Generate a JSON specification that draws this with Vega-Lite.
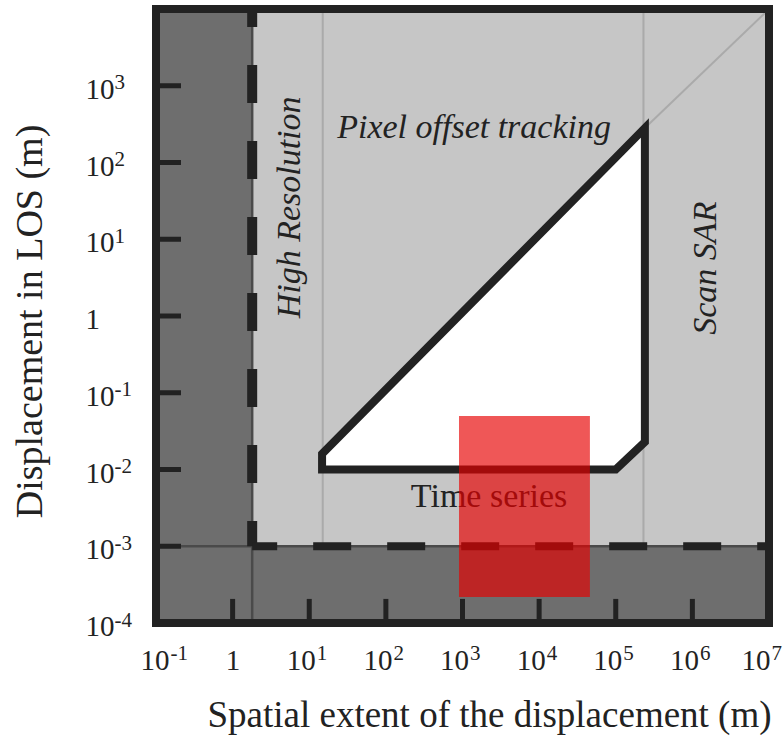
{
  "$schema": "https://vega.github.io/schema/vega-lite/v6.json",
  "width": 613,
  "height": 614,
  "autosize": "none",
  "padding": {"left": 156, "top": 9, "right": 15, "bottom": 115},
  "background": "white",
  "config": {"view": {"stroke": null}, "font": "Liberation Serif"},
  "datasets": {
    "zones": [
      {"zone": "low resolution", "x": 0.1, "x2": 1.75, "y": 0.0001, "y2": 10000},
      {"zone": "noise floor", "x": 0.1, "x2": 10000000, "y": 0.0001, "y2": 0.001}
    ],
    "thin": [
      {"line": "hr", "x": 15, "x2": 15, "y": 0.001, "y2": 10000},
      {"line": "scansar", "x": 230000, "x2": 230000, "y": 0.001, "y2": 10000},
      {"line": "diag", "x": 240000, "x2": 9000000, "y": 282, "y2": 9000}
    ],
    "edges": [
      {"edge": "v", "x": 1.8, "x2": 1.8, "y": 0.0001, "y2": 10000},
      {"edge": "h", "x": 0.1, "x2": 10000000, "y": 0.001, "y2": 0.001}
    ],
    "dashv": [{"x": 1.8, "y": 10000, "y2": 0.001}],
    "dashh": [{"x": 1.8, "x2": 10000000, "y": 0.001}],
    "triangle": [
      {"x": 14.7, "y": 0.016, "y2": 0.01},
      {"x": 100000, "y": 116, "y2": 0.01},
      {"x": 240000, "y": 282, "y2": 0.0228}
    ],
    "ytick": [
      {"x": 0.1, "x2": 0.212, "y": 1000}, {"x": 0.1, "x2": 0.212, "y": 100},
      {"x": 0.1, "x2": 0.212, "y": 10}, {"x": 0.1, "x2": 0.212, "y": 1},
      {"x": 0.1, "x2": 0.212, "y": 0.1}, {"x": 0.1, "x2": 0.212, "y": 0.01},
      {"x": 0.1, "x2": 0.212, "y": 0.001}
    ],
    "xtick": [
      {"x": 1, "y": 0.0001, "y2": 0.000206}, {"x": 10, "y": 0.0001, "y2": 0.000206},
      {"x": 100, "y": 0.0001, "y2": 0.000206}, {"x": 1000, "y": 0.0001, "y2": 0.000206},
      {"x": 10000, "y": 0.0001, "y2": 0.000206}, {"x": 100000, "y": 0.0001, "y2": 0.000206},
      {"x": 1000000, "y": 0.0001, "y2": 0.000206}
    ],
    "labelsItalic": [
      {"label": "Pixel offset tracking", "x": 1416, "y": 282, "angle": 0},
      {"label": "High Resolution", "x": 5.6, "y": 26, "angle": 270},
      {"label": "Scan SAR", "x": 1500000, "y": 4.2, "angle": 270}
    ],
    "labelsPlain": [
      {"label": "Time series", "x": 2224, "y": 0.0044}
    ],
    "red": [{"x": 900, "x2": 46000, "y": 0.000218, "y2": 0.0498}],
    "frame": [{"x": 0.1, "x2": 10000000, "y": 0.0001, "y2": 10000}]
  },
  "resolve": {"axis": {"x": "independent", "y": "independent"}},
  "layer": [
    {
      "encoding": {
        "x": {
          "field": "x",
          "type": "quantitative",
          "scale": {"type": "log", "domain": [0.1, 10000000], "nice": false, "zero": false},
          "axis": {
            "orient": "bottom",
            "values": [0.1, 1, 10, 100, 1000, 10000, 100000, 1000000, 10000000],
            "labelExpr": "datum.value == 1 ? '1' : '10'",
            "ticks": false,
            "domain": false,
            "grid": false,
            "labelFont": "Liberation Serif",
            "labelFontSize": 29,
            "labelColor": "#222222",
            "labelPadding": 37,
            "labelBaseline": "middle",
            "labelAlign": "right",
            "labelOffset": {"condition": [
              {"test": "datum.value == 1", "value": 7},
              {"test": "datum.value < 0.5", "value": 13},
              {"test": "datum.value > 5000000", "value": 1}
            ], "value": 6},
            "labelFlush": false,
            "labelOverlap": false,
            "labelBound": false,
            "title": "Spatial extent of the displacement (m)",
            "titleFont": "Liberation Serif",
            "titleFontSize": 37,
            "titleFontWeight": "normal",
            "titleColor": "#222222",
            "titleX": 333,
            "titleY": 92,
            "titleAlign": "center",
            "titleBaseline": "middle"
          }
        },
        "y": {
          "field": "y",
          "type": "quantitative",
          "scale": {"type": "log", "domain": [0.0001, 10000], "nice": false, "zero": false},
          "axis": {
            "orient": "left",
            "values": [0.0001, 0.001, 0.01, 0.1, 1, 10, 100, 1000],
            "labelExpr": "datum.value == 1 ? '1' : '10'",
            "ticks": false,
            "domain": false,
            "grid": false,
            "labelFont": "Liberation Serif",
            "labelFontSize": 29,
            "labelColor": "#222222",
            "labelAlign": "left",
            "labelPadding": 71,
            "labelOffset": 3.5,
            "labelBaseline": "middle",
            "labelFlush": false,
            "labelOverlap": false,
            "labelBound": false,
            "title": "Displacement in LOS (m)",
            "titleFont": "Liberation Serif",
            "titleFontSize": 38,
            "titleFontWeight": "normal",
            "titleColor": "#222222",
            "titleAngle": -90,
            "titleX": -126,
            "titleY": 312,
            "titleAlign": "center",
            "titleBaseline": "middle"
          }
        }
      },
      "layer": [
        {
          "data": {"name": "frame"},
          "mark": {"type": "rect", "fill": "#c6c6c6", "stroke": null},
          "encoding": {"x2": {"field": "x2"}, "y2": {"field": "y2"}}
        },
        {
          "data": {"name": "zones"},
          "mark": {"type": "rect", "fill": "#6e6e6e", "stroke": null},
          "encoding": {"x2": {"field": "x2"}, "y2": {"field": "y2"}}
        },
        {
          "data": {"name": "thin"},
          "mark": {"type": "rule", "color": "#aaaaaa", "strokeWidth": 2},
          "encoding": {"x2": {"field": "x2"}, "y2": {"field": "y2"}}
        },
        {
          "data": {"name": "edges"},
          "mark": {"type": "rule", "color": "#4a4a4a", "strokeWidth": 2.5},
          "encoding": {"x2": {"field": "x2"}, "y2": {"field": "y2"}}
        },
        {
          "data": {"name": "dashv"},
          "mark": {"type": "rule", "color": "#222222", "strokeWidth": 10, "strokeDash": [38, 38], "strokeDashOffset": 20},
          "encoding": {"y2": {"field": "y2"}}
        },
        {
          "data": {"name": "dashh"},
          "mark": {"type": "rule", "color": "#222222", "strokeWidth": 8, "strokeDash": [38, 36], "strokeDashOffset": 13},
          "encoding": {"x2": {"field": "x2"}}
        },
        {
          "data": {"name": "triangle"},
          "mark": {"type": "area", "fill": "white", "fillOpacity": 1, "stroke": "#222222", "strokeWidth": 8, "strokeJoin": "miter", "strokeMiterLimit": 3},
          "encoding": {"y2": {"field": "y2"}}
        },
        {
          "data": {"name": "ytick"},
          "mark": {"type": "rule", "color": "#222222", "strokeWidth": 5},
          "encoding": {"x2": {"field": "x2"}}
        },
        {
          "data": {"name": "xtick"},
          "mark": {"type": "rule", "color": "#222222", "strokeWidth": 5},
          "encoding": {"y2": {"field": "y2"}}
        },
        {
          "data": {"name": "labelsItalic"},
          "mark": {"type": "text", "font": "Liberation Serif", "fontSize": 34, "fontStyle": "italic", "color": "#222222", "align": "center", "baseline": "middle"},
          "encoding": {
            "text": {"field": "label"},
            "angle": {"field": "angle", "type": "quantitative", "scale": null}
          }
        },
        {
          "data": {"name": "labelsPlain"},
          "mark": {"type": "text", "font": "Liberation Serif", "fontSize": 34, "color": "#222222", "align": "center", "baseline": "middle"},
          "encoding": {"text": {"field": "label"}}
        },
        {
          "data": {"name": "red"},
          "mark": {"type": "rect", "fill": "#e60000", "fillOpacity": 0.66, "stroke": null},
          "encoding": {"x2": {"field": "x2"}, "y2": {"field": "y2"}}
        },
        {
          "data": {"name": "frame"},
          "mark": {"type": "rect", "fill": null, "fillOpacity": 0, "stroke": "#222222", "strokeWidth": 8},
          "encoding": {"x2": {"field": "x2"}, "y2": {"field": "y2"}}
        }
      ]
    },
    {
      "data": {"name": "frame"},
      "mark": {"type": "rect", "opacity": 0},
      "encoding": {
        "x": {
          "field": "x",
          "type": "quantitative",
          "axis": {
            "orient": "bottom",
            "values": [0.1, 1, 10, 100, 1000, 10000, 100000, 1000000, 10000000],
            "labelExpr": "datum.value == 1 ? '' : '' + round(log(datum.value)/LN10)",
            "ticks": false,
            "domain": false,
            "grid": false,
            "labelFont": "Liberation Serif",
            "labelFontSize": 21,
            "labelColor": "#222222",
            "labelPadding": 30,
            "labelBaseline": "middle",
            "labelAlign": "left",
            "labelOffset": {"condition": [
              {"test": "datum.value < 0.5", "value": 14},
              {"test": "datum.value > 5000000", "value": 2}
            ], "value": 7},
            "labelFlush": false,
            "labelOverlap": false,
            "labelBound": false,
            "title": null
          }
        },
        "x2": {"field": "x2"},
        "y": {
          "field": "y",
          "type": "quantitative",
          "axis": {
            "orient": "left",
            "values": [0.0001, 0.001, 0.01, 0.1, 1, 10, 100, 1000],
            "labelExpr": "datum.value == 1 ? '' : '' + round(log(datum.value)/LN10)",
            "ticks": false,
            "domain": false,
            "grid": false,
            "labelFont": "Liberation Serif",
            "labelFontSize": 21,
            "labelColor": "#222222",
            "labelAlign": "left",
            "labelPadding": 42,
            "labelOffset": -3,
            "labelBaseline": "middle",
            "labelFlush": false,
            "labelOverlap": false,
            "labelBound": false,
            "title": null
          }
        },
        "y2": {"field": "y2"}
      }
    }
  ]
}
